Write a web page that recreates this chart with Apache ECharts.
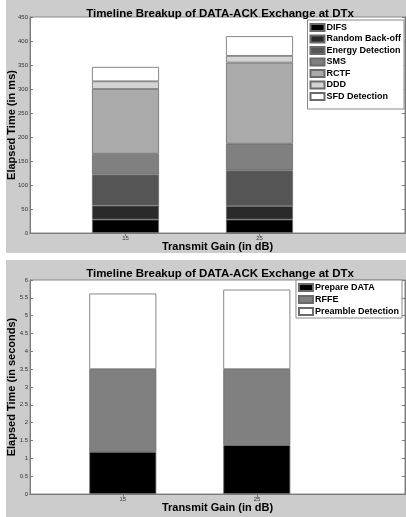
<!DOCTYPE html>
<html>
<head>
<meta charset="utf-8">
<script src="https://cdn.jsdelivr.net/npm/echarts@6/dist/echarts.min.js"></script>
<style>
html,body{margin:0;padding:0;background:#ffffff;width:406px;height:517px;overflow:hidden;}
#c1{position:absolute;left:6px;top:0px;width:400px;height:253px;background:#cccccc;}
#c2{position:absolute;left:6px;top:260px;width:400px;height:257px;background:#cccccc;}
</style>
</head>
<body>
<div id="c1"></div>
<div id="c2"></div>
<script>
// ---------- data ----------
const gains = [15, 25];
const gainLabels = ['15', '25'];
const titleText = 'Timeline Breakup of DATA-ACK Exchange at DTx';
const xName = 'Transmit Gain (in dB)';

// chart 1 (ms), segment heights per gain
const names1 = ['DIFS', 'Random Back-off', 'Energy Detection', 'SMS', 'RCTF', 'DDD', 'SFD Detection'];
const difs = [28, 28];
const randomBackoff = [29, 28];
const energyDetection = [64.5, 74.5];
const sms = [43.5, 55.5];
const rctf = [135, 169];
const ddd = [16, 14];
const sfdDetection = [30, 41];
const values1 = [difs, randomBackoff, energyDetection, sms, rctf, ddd, sfdDetection];
const colors1 = ['#000000', '#2a2a2a', '#555555', '#808080', '#aaaaaa', '#d4d4d4', '#ffffff'];

// chart 2 (seconds)
const names2 = ['Prepare DATA', 'RFFE', 'Preamble Detection'];
const prepareData = [1.18, 1.37];
const rffe = [2.32, 2.13];
const preambleDetection = [2.12, 2.23];
const values2 = [prepareData, rffe, preambleDetection];
const colors2 = ['#000000', '#808080', '#ffffff'];

const FONT = 'Liberation Sans, Arial, sans-serif';

function build(o) {
  const ax = {color: '#7a7a7a', width: 1};
  const frameGrid = {
    left: 24, right: 1, top: o.gridTop, bottom: o.gridBottom,
    show: true, backgroundColor: '#ffffff', borderColor: '#8a8a8a', borderWidth: 1,
    outerBoundsMode: 'none', containLabel: false
  };
  const barGrid = {
    left: o.barLeft, right: o.barRight, top: o.gridTop, bottom: o.gridBottom,
    show: false, outerBoundsMode: 'none', containLabel: false
  };
  const series = o.names.map((n, i) => ({
    name: n,
    type: 'bar',
    stack: 'total',
    barWidth: 67,
    data: o.values[i],
    itemStyle: {color: o.colors[i], borderColor: '#6a6a6a', borderWidth: 0.8},
    emphasis: {disabled: true},
    xAxisIndex: 2, yAxisIndex: 2
  }));
  return {
    animation: false,
    backgroundColor: '#cccccc',
    textStyle: {fontFamily: FONT},
    title: {
      text: titleText, left: o.titleX, top: o.titleTop, textAlign: 'center',
      textStyle: {fontFamily: FONT, fontSize: 11.5, fontWeight: 'bold', color: '#000'}
    },
    legend: {
      data: o.names,
      orient: 'vertical',
      right: o.legendRight, top: o.legendTop,
      backgroundColor: '#ffffff',
      borderColor: '#8a8a8a', borderWidth: 1,
      padding: o.legendPad,
      icon: 'rect',
      itemWidth: 14, itemHeight: 7, itemGap: o.legendGap,
      selectedMode: false,
      textStyle: {fontFamily: FONT, fontSize: 9, fontWeight: 'bold', color: '#000', padding: [0, 0, 0, -3]}
    },
    grid: [frameGrid, barGrid],
    xAxis: [{
      gridIndex: 0, type: 'value', min: o.xMin, max: o.xMax, position: 'bottom',
      name: xName, nameLocation: 'middle', nameGap: 8, nameMoveOverlap: false,
      nameTextStyle: {fontFamily: FONT, fontSize: 11, fontWeight: 'bold', color: '#000', verticalAlign: 'top'},
      axisLine: {show: true, lineStyle: ax},
      axisTick: {show: true, inside: true, length: 3, lineStyle: ax, customValues: gains},
      axisLabel: {fontSize: 6, color: '#333', margin: 2, customValues: gains},
      splitLine: {show: false}
    }, {
      gridIndex: 0, type: 'value', min: o.xMin, max: o.xMax, position: 'top',
      axisLine: {show: true, lineStyle: ax},
      axisTick: {show: true, inside: true, length: 3, lineStyle: ax, customValues: gains},
      axisLabel: {show: false},
      splitLine: {show: false}
    }, {
      gridIndex: 1, type: 'category', data: gainLabels, boundaryGap: true,
      show: false
    }],
    yAxis: [{
      gridIndex: 0, type: 'value', min: 0, max: o.yMax, interval: o.yInterval, position: 'left',
      name: o.yName, nameLocation: 'middle', nameGap: 12.5, nameRotate: 90, nameMoveOverlap: false,
      nameTextStyle: {fontFamily: FONT, fontSize: 11, fontWeight: 'bold', color: '#000'},
      axisLine: {show: true, lineStyle: ax},
      axisTick: {show: true, inside: true, length: 3, lineStyle: ax},
      axisLabel: {fontSize: 6, color: '#333', margin: 2},
      splitLine: {show: false}
    }, {
      gridIndex: 0, type: 'value', min: 0, max: o.yMax, interval: o.yInterval, position: 'right',
      axisLine: {show: true, lineStyle: ax},
      axisTick: {show: true, inside: true, length: 3, lineStyle: ax},
      axisLabel: {show: false},
      splitLine: {show: false}
    }, {
      gridIndex: 1, type: 'value', min: 0, max: o.yMax, show: false, splitLine: {show: false}
    }],
    series: series
  };
}

const chart1 = echarts.init(document.getElementById('c1'), null, {renderer: 'canvas'});
chart1.setOption(build({
  names: names1, values: values1, colors: colors1,
  titleX: 209, titleTop: 3,
  legendRight: 2, legendTop: 20, legendGap: 2.5, legendPad: [3, 3, 8, 2],
  gridTop: 17, gridBottom: 20,
  xMin: 7.87, xMax: 35.86,
  barLeft: 52.5, barRight: 79.5,
  yMax: 450, yInterval: 50,
  yName: 'Elapsed Time (in ms)'
}));

const chart2 = echarts.init(document.getElementById('c2'), null, {renderer: 'canvas'});
chart2.setOption(build({
  names: names2, values: values2, colors: colors2,
  titleX: 209, titleTop: 3,
  legendRight: 4, legendTop: 20, legendGap: 3, legendPad: [3, 3, 2, 2],
  gridTop: 20, gridBottom: 23,
  xMin: 8.08, xMax: 36.03,
  barLeft: 49.8, barRight: 82.2,
  yMax: 6, yInterval: 0.5,
  yName: 'Elapsed Time (in seconds)'
}));
</script>
</body>
</html>
